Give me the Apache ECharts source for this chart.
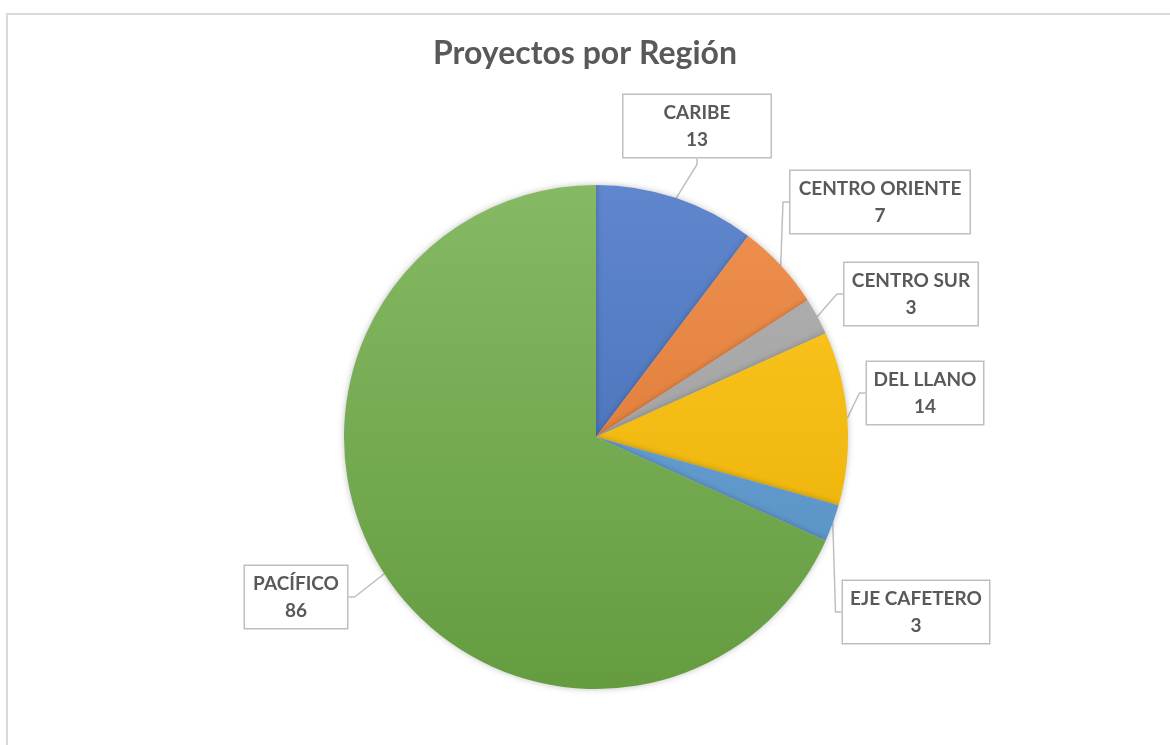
<!DOCTYPE html>
<html>
<head>
<meta charset="utf-8">
<title>Proyectos por Región</title>
<script src="https://cdn.jsdelivr.net/npm/echarts@6/dist/echarts.min.js"></script>
<style>
    html, body { margin: 0; padding: 0; background: #fff; overflow: hidden; }
    #frame { position: absolute; left: 6px; top: 13px; width: 1200px; height: 800px; border: 2px solid #d9d9d9; box-sizing: border-box; }
    #chart { position: absolute; left: 0; top: 0; width: 1170px; height: 745px; }
</style>
</head>
<body>
<div id="frame"></div>
<div id="chart"></div>
<script>
    // datos
    var regiones = ['CARIBE', 'CENTRO ORIENTE', 'CENTRO SUR', 'DEL LLANO', 'EJE CAFETERO', 'PACÍFICO'];
    var proyectos = [13, 7, 3, 14, 3, 86];

    // estilo (colores de Office, posición y ancho de cada etiqueta)
    var colores = ['#4472C4', '#ED7D31', '#A5A5A5', '#FFC000', '#5B9BD5', '#70AD47'];
    var etiquetaPos = [[697, 126], [880, 202], [911, 294], [925, 393], [916, 612], [296, 597]];
    var etiquetaAncho = [147, 179, 133, 116, 146, 102];

    function mezclar(hex, t, con) {
        var n = parseInt(hex.slice(1), 16);
        var c = [(n >> 16) & 255, (n >> 8) & 255, n & 255];
        return 'rgb(' + c.map(function (v) { return Math.round(v + (con - v) * t); }).join(',') + ')';
    }

    var cx = 596, cy = 437, r = 252;

    var datos = regiones.map(function (nombre, i) {
        return {
            name: nombre,
            value: proyectos[i],
            itemStyle: {
                color: new echarts.graphic.LinearGradient(0, cy - r, 0, cy + r, [
                    { offset: 0, color: mezclar(colores[i], 0.15, 255) },
                    { offset: 1, color: mezclar(colores[i], 0.1, 0) }
                ], true)
            },
            label: { width: etiquetaAncho[i] }
        };
    });

    var myChart = echarts.init(document.getElementById('chart'));
    myChart.setOption({
        animation: false,
        backgroundColor: 'transparent',
        title: {
            text: 'Proyectos por Región',
            left: 'center',
            top: 33,
            textStyle: {
                fontFamily: 'Lato',
                fontSize: 32,
                fontWeight: 'bold',
                color: '#595959'
            }
        },
        series: [{
            type: 'pie',
            center: [cx, cy],
            radius: r,
            startAngle: 90,
            clockwise: true,
            data: datos,
            emphasis: { disabled: true },
            itemStyle: {
                shadowBlur: 6,
                shadowColor: 'rgba(0,0,0,0.25)'
            },
            label: {
                show: true,
                position: 'outside',
                formatter: '{b}\n{c}',
                fontFamily: 'Lato',
                fontSize: 19,
                fontWeight: 'bold',
                color: '#595959',
                lineHeight: 27,
                align: 'center',
                backgroundColor: '#ffffff',
                borderColor: '#bfbfbf',
                borderWidth: 1.5,
                padding: [4, 0]
            },
            labelLine: {
                show: true,
                length: 10,
                length2: 6,
                lineStyle: { color: '#bfbfbf', width: 1.5 }
            },
            labelLayout: function (p) {
                var pos = etiquetaPos[p.dataIndex];
                return { x: pos[0], y: pos[1], align: 'center', verticalAlign: 'middle' };
            }
        }]
    });
</script>
</body>
</html>
